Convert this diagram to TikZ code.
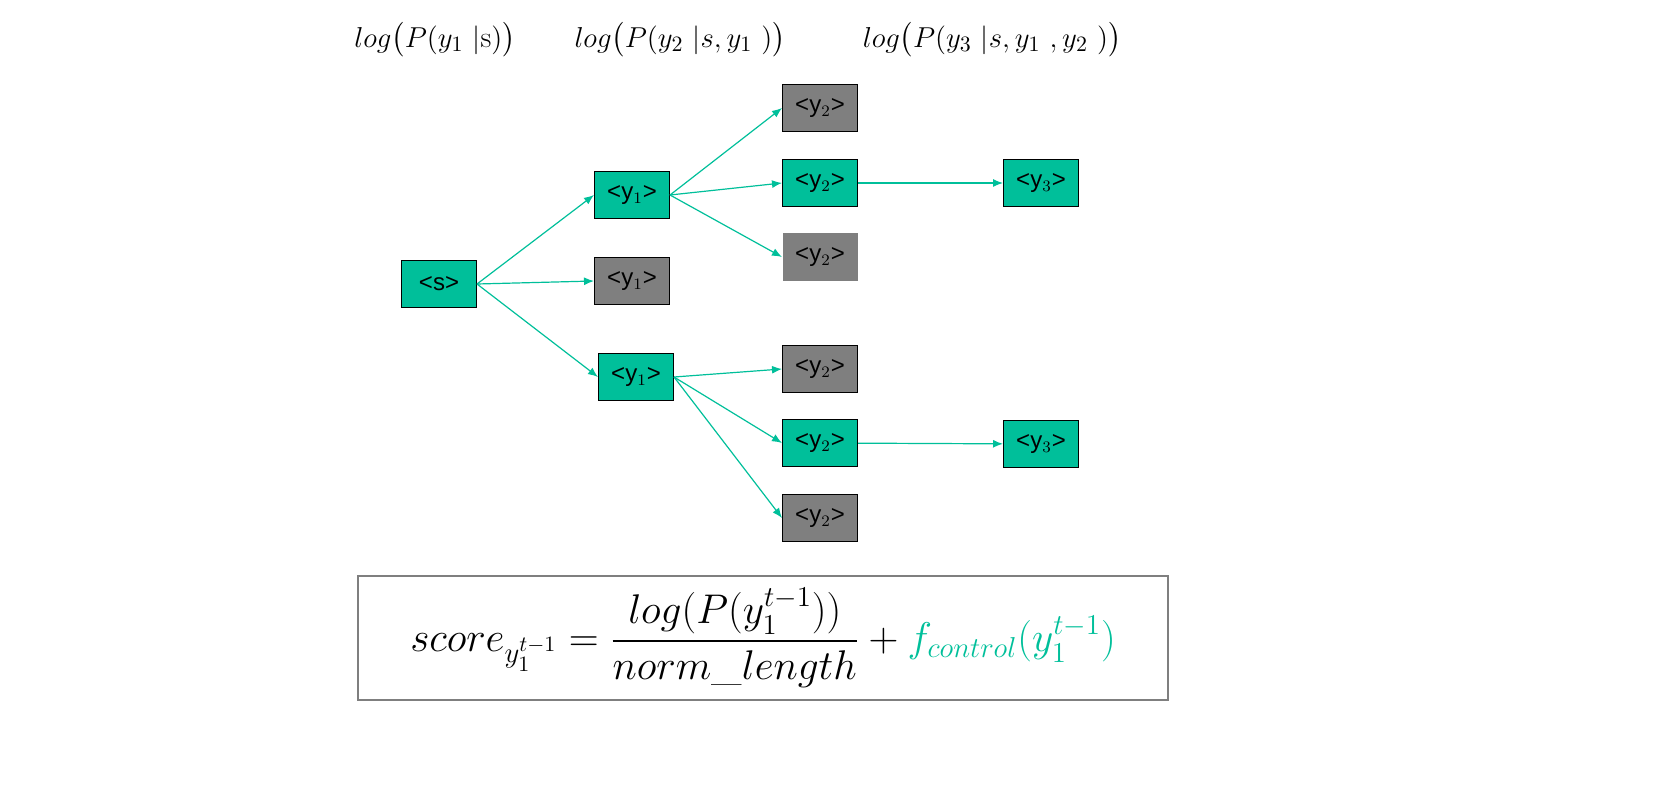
\documentclass[tikz,border=0pt]{standalone}
\usepackage{amsmath}
\usepackage{fontspec}
\newfontfamily\boxfont{Liberation Sans}
\usetikzlibrary{arrows.meta}
\definecolor{tl}{HTML}{00BF9A}
\definecolor{gr}{HTML}{7F7F7F}
\begin{document}
\begin{tikzpicture}[x=0.5pt,y=-0.5pt,
 bx/.style={draw=black,line width=0.5pt,minimum width=37.5pt,minimum height=23.5pt,inner sep=0pt,font=\boxfont\fontsize{12}{13}\selectfont},
 g/.style={bx,fill=tl},
 k/.style={bx,fill=gr},
 kn/.style={k,draw=none},
 ar/.style={draw=tl,line width=0.6pt,-{Latex[length=5pt,width=4pt]}},
 lab/.style={font=\fontsize{15}{17}\selectfont}]
\node[g] (s) at (439,284) {<s>};
\node[g] (a1) at (632,195) {<y$_1$>};
\node[k] (a2) at (632,281) {<y$_1$>};
\node[g] (a3) at (636,377) {<y$_1$>};
\node[k] (b1) at (820,108) {<y$_2$>};
\node[g] (b2) at (820,183) {<y$_2$>};
\node[kn] (b3) at (820,257) {<y$_2$>};
\node[k] (b4) at (820,369) {<y$_2$>};
\node[g] (b5) at (820,443) {<y$_2$>};
\node[k] (b6) at (820,518) {<y$_2$>};
\node[g] (c1) at (1041,183) {<y$_3$>};
\node[g] (c2) at (1041,444) {<y$_3$>};
\foreach \tg in {a1,a2,a3} \draw[ar] (s.east) -- (\tg.west);
\foreach \tg in {b1,b2,b3} \draw[ar] (a1.east) -- (\tg.west);
\foreach \tg in {b4,b5,b6} \draw[ar] (a3.east) -- (\tg.west);
\draw[ar] (b2) -- (c1);
\draw[ar] (b5) -- (c2);
\node[lab] (l1) at (435,40) {$log\bigl(P(y_1\ |\mathrm{s})\bigr)$};
\node[lab] (l2) at (680,40) {$log\bigl(P(y_2\ |s,y_1\ )\bigr)$};
\node[lab] (l3) at (992,40) {$log\bigl(P(y_3\ |s,y_1\ ,y_2\ )\bigr)$};
\node[draw=gr,line width=0.6pt,minimum width=405pt,minimum height=62pt,font=\fontsize{22}{26}\selectfont] (f) at (763,638)
 {$score_{y_1^{t-1}}=\dfrac{log(P(y_1^{t-1}))}{norm\_length}+\textcolor{tl}{f_{control}(y_1^{t-1})}$};
\pgfresetboundingbox
\path[use as bounding box] (0,0) rectangle (1680,786);
\end{tikzpicture}
\end{document}
